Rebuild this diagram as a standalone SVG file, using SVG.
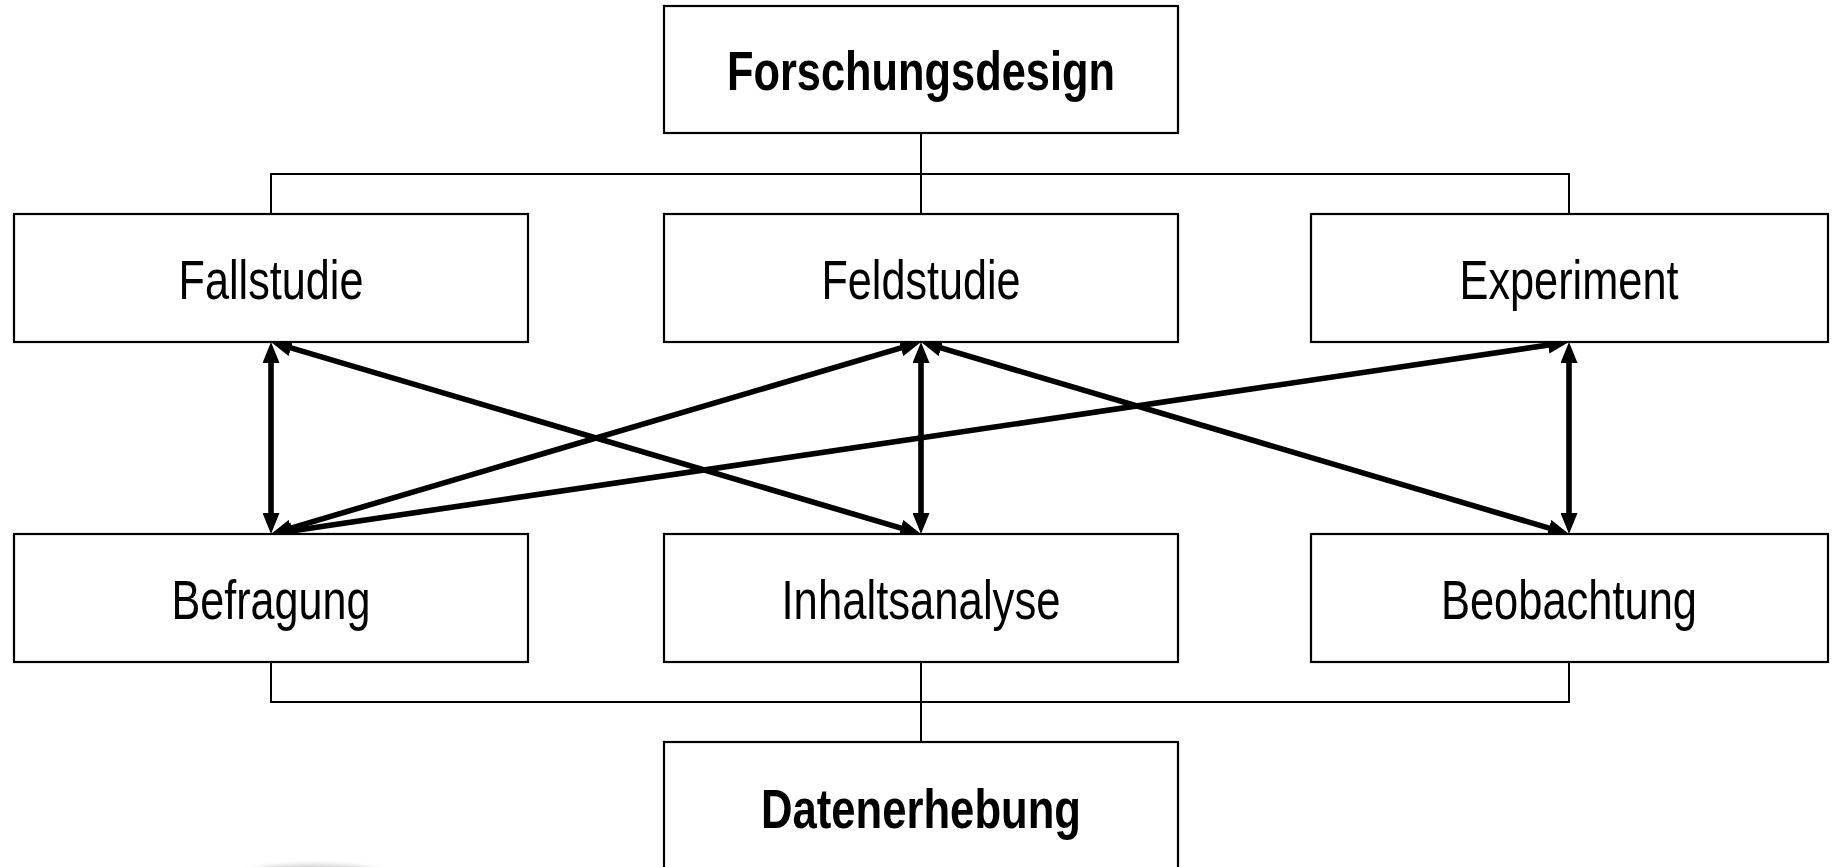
<svg xmlns="http://www.w3.org/2000/svg" width="1833" height="867" viewBox="0 0 1833 867">
  <style>
    .box { fill: #ffffff; stroke: #000000; stroke-width: 2.2; }
    .lbl { font-family: "Liberation Sans", Arial, sans-serif; font-size: 56px; fill: #000000; text-anchor: middle; }
    .head { font-weight: bold; }
    .tree { fill: none; stroke: #000000; stroke-width: 2; }
    .link { fill: none; stroke: #000000; stroke-width: 5.6; marker-start: url(#tip); marker-end: url(#tip); }
  </style>
  <defs>
    <marker id="tip" viewBox="0 0 21 17" refX="9" refY="8.5" markerWidth="21" markerHeight="17" markerUnits="userSpaceOnUse" orient="auto-start-reverse">
      <path d="M0,0 L21,8.5 L0,17 z" fill="#000000"/>
    </marker>
    <filter id="soft" x="-20%" y="-50%" width="140%" height="200%">
      <feGaussianBlur stdDeviation="2"/>
    </filter>
  </defs>

  <rect width="1833" height="867" fill="#ffffff"/>

  <!-- faint shadow at the lower edge -->
  <ellipse cx="314" cy="884" rx="92" ry="20" fill="#d6d6d6" filter="url(#soft)"/>

  <!-- connectors -->
  <g id="connectors">
    <!-- tree from the top box to the three study types -->
    <path class="tree" d="M921,133 V174 M271,214 V174 H1569 V214 M921,174 V214"/>
    <!-- tree from the three methods to the bottom box -->
    <path class="tree" d="M271,662 V702 H1569 V662 M921,662 V742"/>
    <!-- bidirectional links between study types and methods -->
    <path class="link" d="M271,354 L271,522"/>
    <path class="link" d="M282.5,345.4 L909.5,530.6"/>
    <path class="link" d="M909.5,345.4 L282.5,530.6"/>
    <path class="link" d="M1557.1,343.8 L282.9,532.2"/>
    <path class="link" d="M921,354 L921,522"/>
    <path class="link" d="M932.5,345.4 L1557.5,530.6"/>
    <path class="link" d="M1569,354 L1569,522"/>
  </g>

  <g id="forschungsdesign">
    <rect class="box" x="664" y="6" width="514" height="127"/>
    <text class="lbl head" x="921" y="90" textLength="388" lengthAdjust="spacingAndGlyphs">Forschungsdesign</text>
  </g>

  <g id="fallstudie">
    <rect class="box" x="14" y="214" width="514" height="128"/>
    <text class="lbl" x="271" y="299" textLength="185" lengthAdjust="spacingAndGlyphs">Fallstudie</text>
  </g>

  <g id="feldstudie">
    <rect class="box" x="664" y="214" width="514" height="128"/>
    <text class="lbl" x="921" y="299" textLength="199" lengthAdjust="spacingAndGlyphs">Feldstudie</text>
  </g>

  <g id="experiment">
    <rect class="box" x="1311" y="214" width="517" height="128"/>
    <text class="lbl" x="1569" y="299" textLength="219" lengthAdjust="spacingAndGlyphs">Experiment</text>
  </g>

  <g id="befragung">
    <rect class="box" x="14" y="534" width="514" height="128"/>
    <text class="lbl" x="271" y="619" textLength="199" lengthAdjust="spacingAndGlyphs">Befragung</text>
  </g>

  <g id="inhaltsanalyse">
    <rect class="box" x="664" y="534" width="514" height="128"/>
    <text class="lbl" x="921" y="619" textLength="279" lengthAdjust="spacingAndGlyphs">Inhaltsanalyse</text>
  </g>

  <g id="beobachtung">
    <rect class="box" x="1311" y="534" width="517" height="128"/>
    <text class="lbl" x="1569" y="619" textLength="256" lengthAdjust="spacingAndGlyphs">Beobachtung</text>
  </g>

  <g id="datenerhebung">
    <rect class="box" x="664" y="742" width="514" height="140"/>
    <text class="lbl head" x="921" y="828" textLength="320" lengthAdjust="spacingAndGlyphs">Datenerhebung</text>
  </g>
</svg>
